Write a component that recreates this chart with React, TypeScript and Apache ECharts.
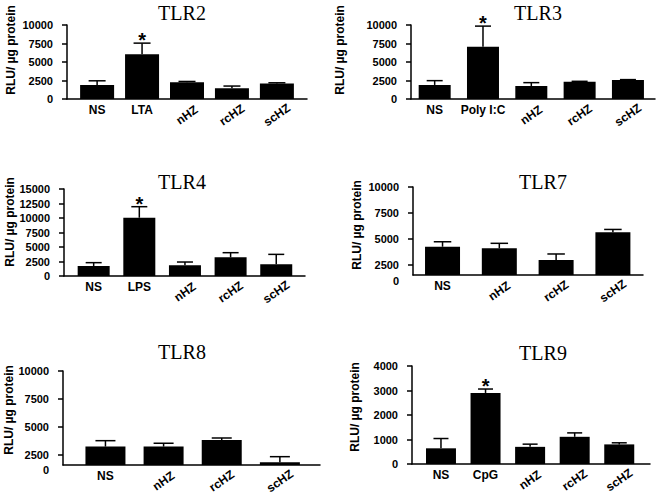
import React, { useEffect, useRef } from "react";
import * as echarts from "echarts";

// ---------- data ----------
const tlr2Categories = ["NS", "LTA", "nHZ", "rcHZ", "scHZ"];
const tlr2Values = [1900, 6050, 2250, 1450, 2100];
const tlr2Errors = [560, 1500, 120, 300, 90];
const tlr2Significant = [0, 1, 0, 0, 0];

const tlr3Categories = ["NS", "Poly I:C", "nHZ", "rcHZ", "scHZ"];
const tlr3Values = [1900, 7050, 1760, 2340, 2560];
const tlr3Errors = [580, 2800, 450, 50, 60];
const tlr3Significant = [0, 1, 0, 0, 0];

const tlr4Categories = ["NS", "LPS", "nHZ", "rcHZ", "scHZ"];
const tlr4Values = [1720, 10050, 1850, 3220, 2010];
const tlr4Errors = [580, 1900, 560, 800, 1720];
const tlr4Significant = [0, 1, 0, 0, 0];

const tlr7Categories = ["NS", "nHZ", "rcHZ", "scHZ"];
const tlr7Values = [4230, 4080, 2950, 5620];
const tlr7Errors = [480, 480, 580, 280];
const tlr7Significant = [0, 0, 0, 0];

const tlr8Categories = ["NS", "nHZ", "rcHZ", "scHZ"];
const tlr8Values = [3240, 3240, 3830, 1840];
const tlr8Errors = [530, 300, 180, 500];
const tlr8Significant = [0, 0, 0, 0];

const tlr9Categories = ["NS", "CpG", "nHZ", "rcHZ", "scHZ"];
const tlr9Values = [640, 2900, 700, 1110, 800];
const tlr9Errors = [400, 160, 110, 160, 65];
const tlr9Significant = [0, 1, 0, 0, 0];

const yTicks10000 = [0, 2500, 5000, 7500, 10000];
const yTicks15000 = [0, 2500, 5000, 7500, 10000, 12500, 15000];
const yTicks4000 = [0, 1000, 2000, 3000, 4000];
// TLR7 / TLR8 axes start above zero in the original but label their floor "0"
const tlr7Floor = 1500;
const tlr8Floor = 1600;
const brokenTicks = [2500, 5000, 7500, 10000];

const yAxisName = "RLU/ µg protein";

// ---------- layout ----------
type Panel = {
  title: string;
  categories: string[];
  values: number[];
  errors: number[];
  significant: number[];
  horizontal: number; // number of leading labels drawn horizontally
  yMin: number;
  yMax: number;
  yTickValues: number[];
  floor?: number;
  yLabelPadding: number[];
  left: number;
  top: number;
  width: number;
  height: number;
  xMin: number;
  xMax: number;
  barWidth: number;
  titleX: number;
  titleY: number;
  nameX: number;
  nameY: number;
};

const panels: Panel[] = [
  {
    title: "TLR2", categories: tlr2Categories, values: tlr2Values, errors: tlr2Errors, significant: tlr2Significant,
    horizontal: 2, yMin: 0, yMax: 10000, yTickValues: yTicks10000, yLabelPadding: [4, 0, 0, 0],
    left: 67, top: 25, width: 240, height: 74, xMin: -0.67, xMax: 4.67, barWidth: 34,
    titleX: 182, titleY: 13, nameX: 11, nameY: 50,
  },
  {
    title: "TLR3", categories: tlr3Categories, values: tlr3Values, errors: tlr3Errors, significant: tlr3Significant,
    horizontal: 2, yMin: 0, yMax: 10000, yTickValues: yTicks10000, yLabelPadding: [4, 0, 0, 0],
    left: 411, top: 25, width: 244, height: 74, xMin: -0.49, xMax: 4.56, barWidth: 32,
    titleX: 538, titleY: 13, nameX: 340, nameY: 50,
  },
  {
    title: "TLR4", categories: tlr4Categories, values: tlr4Values, errors: tlr4Errors, significant: tlr4Significant,
    horizontal: 2, yMin: 0, yMax: 15000, yTickValues: yTicks15000, yLabelPadding: [4, 0, 0, 0],
    left: 64, top: 189, width: 241, height: 87, xMin: -0.65, xMax: 4.63, barWidth: 32,
    titleX: 182, titleY: 182, nameX: 10, nameY: 222,
  },
  {
    title: "TLR7", categories: tlr7Categories, values: tlr7Values, errors: tlr7Errors, significant: tlr7Significant,
    horizontal: 1, yMin: tlr7Floor, yMax: 10000, yTickValues: brokenTicks, floor: tlr7Floor, yLabelPadding: [0, 0, 0, 0],
    left: 413, top: 187, width: 230, height: 88, xMin: -0.52, xMax: 3.53, barWidth: 35,
    titleX: 543, titleY: 182, nameX: 357, nameY: 225,
  },
  {
    title: "TLR8", categories: tlr8Categories, values: tlr8Values, errors: tlr8Errors, significant: tlr8Significant,
    horizontal: 1, yMin: tlr8Floor, yMax: 10000, yTickValues: brokenTicks, floor: tlr8Floor, yLabelPadding: [0, 0, 0, 0],
    left: 63, top: 371, width: 257, height: 94, xMin: -0.73, xMax: 3.69, barWidth: 40,
    titleX: 182, titleY: 352, nameX: 9, nameY: 410,
  },
  {
    title: "TLR9", categories: tlr9Categories, values: tlr9Values, errors: tlr9Errors, significant: tlr9Significant,
    horizontal: 2, yMin: 0, yMax: 4000, yTickValues: yTicks4000, yLabelPadding: [4, 0, 0, 0],
    left: 412, top: 366, width: 238, height: 98, xMin: -0.65, xMax: 4.69, barWidth: 30,
    titleX: 543, titleY: 353, nameX: 355, nameY: 407,
  },
];

const SANS = '"Liberation Sans", Arial, sans-serif';
const SERIF = '"Liberation Serif", "Times New Roman", serif';

function buildOption() {
  const grid: any[] = [];
  const xAxis: any[] = [];
  const yAxis: any[] = [];
  const series: any[] = [];
  const graphic: any[] = [];

  panels.forEach((p, k) => {
    grid.push({ left: p.left, top: p.top, width: p.width, height: p.height, containLabel: false });
    const idx = p.categories.map((_, i) => i);
    const fmt = (v: number) => p.categories[Math.round(v)] ?? "";
    const labelBase = { color: "#000", fontFamily: SANS, fontWeight: "bold", fontSize: 12 };
    const xIndex = xAxis.length;
    xAxis.push({
      type: "value", gridIndex: k, position: "bottom", min: p.xMin, max: p.xMax,
      axisLine: { show: true, onZero: false, lineStyle: { color: "#000", width: 1.5 } },
      axisTick: { show: false }, splitLine: { show: false },
      axisLabel: { ...labelBase, customValues: idx.slice(0, p.horizontal), formatter: fmt, margin: 5 },
    });
    xAxis.push({
      type: "value", gridIndex: k, position: "bottom", min: p.xMin, max: p.xMax,
      axisLine: { show: false, onZero: false }, axisTick: { show: false }, splitLine: { show: false },
      axisLabel: {
        ...labelBase, customValues: idx.slice(p.horizontal), formatter: fmt,
        rotate: 35, align: "center", verticalAlign: "middle", margin: 16,
      },
    });
    const yIndex = yAxis.length;
    const yLabel = { color: "#000", fontFamily: SANS, fontWeight: "bold", fontSize: 11, margin: 14 };
    yAxis.push({
      type: "value", gridIndex: k, position: "left", min: p.yMin, max: p.yMax,
      axisLine: { show: true, onZero: false, lineStyle: { color: "#000", width: 1.5 } },
      axisTick: { show: true, length: 5, customValues: p.yTickValues, lineStyle: { color: "#000", width: 1.5 } },
      splitLine: { show: false },
      axisLabel: {
        ...yLabel, padding: p.yLabelPadding, customValues: p.yTickValues,
        formatter: (v: number) => String(v),
      },
    });
    if (p.floor !== undefined) {
      // the floor of a raised axis is labelled "0" in the original
      yAxis.push({
        type: "value", gridIndex: k, position: "left", offset: 0, min: p.yMin, max: p.yMax,
        axisLine: { show: false, onZero: false }, axisTick: { show: false }, splitLine: { show: false },
        axisLabel: {
          ...yLabel, verticalAlign: "top", customValues: [p.floor], showMinLabel: true, formatter: () => "0",
        },
      });
    }
    const capHalf = p.barWidth * 0.25;
    series.push({
      type: "bar", xAxisIndex: xIndex, yAxisIndex: yIndex, barWidth: p.barWidth,
      itemStyle: { color: "#000" }, silent: true,
      data: p.values.map((v, i) => [i, v]),
    });
    series.push({
      type: "custom", xAxisIndex: xIndex, yAxisIndex: yIndex, silent: true, z: 5,
      data: p.values.map((v, i) => [i, v, p.errors[i], p.significant[i]]),
      renderItem: (_params: any, api: any) => {
        const x = api.value(0);
        const v = api.value(1);
        const e = api.value(2);
        const s = api.value(3);
        const base = api.coord([x, v]);
        const top = api.coord([x, v + e]);
        const children: any[] = [
          { type: "line", shape: { x1: base[0], y1: base[1], x2: top[0], y2: top[1] }, style: { stroke: "#000", lineWidth: 1.5 } },
          { type: "line", shape: { x1: top[0] - capHalf, y1: top[1], x2: top[0] + capHalf, y2: top[1] }, style: { stroke: "#000", lineWidth: 1.5 } },
        ];
        if (s) {
          children.push({
            type: "text", x: top[0], y: top[1] - 3,
            style: {
              text: "*", fill: "#000", fontFamily: SANS, fontWeight: "bold", fontSize: 20,
              align: "center", verticalAlign: "middle",
            },
          });
        }
        return { type: "group", children };
      },
    });
    graphic.push({
      type: "text", x: p.titleX, y: p.titleY, silent: true,
      style: { text: p.title, fill: "#000", fontFamily: SERIF, fontSize: 20, align: "center", verticalAlign: "middle" },
    });
    graphic.push({
      type: "text", x: p.nameX, y: p.nameY, rotation: Math.PI / 2, silent: true,
      style: { text: yAxisName, fill: "#000", fontFamily: SANS, fontWeight: "bold", fontSize: 12, align: "center", verticalAlign: "middle" },
    });
  });

  return { animation: false, backgroundColor: "#fff", grid, xAxis, yAxis, series, graphic };
}

export default function App() {
  const ref = useRef<HTMLDivElement>(null);
  useEffect(() => {
    if (!ref.current) return;
    const chart = echarts.init(ref.current, undefined, { renderer: "svg" });
    chart.setOption(buildOption() as any);
    return () => chart.dispose();
  }, []);
  return (
    <div
      ref={ref}
      style={{ position: "fixed", left: 0, top: 0, width: 661, height: 496, background: "#fff" }}
    />
  );
}
